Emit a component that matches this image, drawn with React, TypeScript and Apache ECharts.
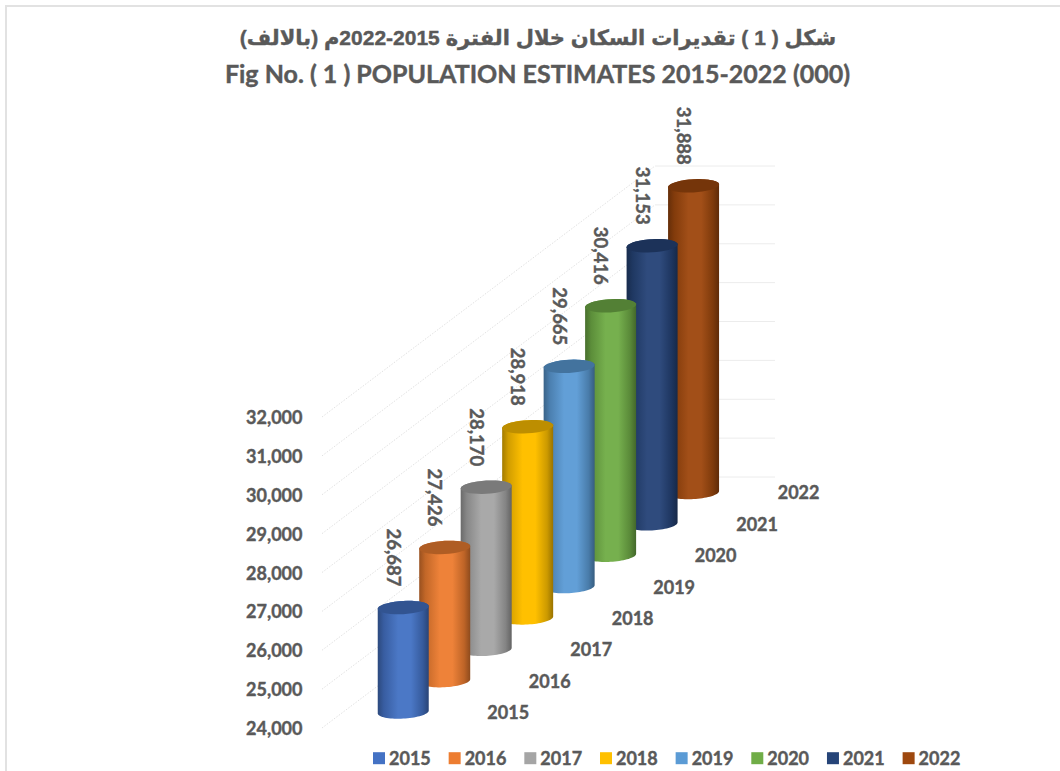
import React, { useEffect, useRef } from "react";
import * as echarts from "echarts";

const years = ["2015", "2016", "2017", "2018", "2019", "2020", "2021", "2022"];
const population = [26687, 27426, 28170, 28918, 29665, 30416, 31153, 31888];
const colors = ["#4472C4", "#ED7D31", "#A5A5A5", "#FFC000", "#5B9BD5", "#70AD47", "#264478", "#9E480E"];
const yTicks = [24000, 25000, 26000, 27000, 28000, 29000, 30000, 31000, 32000];
const titleArabic = "\u202Bشكل ( 1 ) تقديرات السكان خلال الفترة 2015-2022م (بالالف)\u202C";
const titleEnglish = "Fig No. ( 1 ) POPULATION ESTIMATES 2015-2022 (000)";

const FONT = "Lato, Carlito, 'Open Sans', sans-serif";
const TEXT = "#595959";
const HEAVY = { textBorderColor: TEXT, textBorderWidth: 0.4 };
const HEAVY_CUSTOM = { stroke: TEXT, lineWidth: 0.4 };
const DEPTH_STEP = -31.36; // vertical shift per category
const BASE_LIFT = -16;
const RX = 25.5;
const RY = 6.6;
const TILT = -0.055;

function shade(hex: string, f: number) {
  const n = parseInt(hex.slice(1), 16);
  const ch = [(n >> 16) & 255, (n >> 8) & 255, n & 255];
  const out = ch.map((c) => Math.round(f < 1 ? c * f : c + (255 - c) * (f - 1)));
  return `rgb(${out[0]},${out[1]},${out[2]})`;
}

function ellipsePts(cx: number, cy: number, from: number, to: number) {
  const pts: number[][] = [];
  const n = 36;
  for (let k = 0; k <= n; k++) {
    const t = from + ((to - from) * k) / n;
    const x = RX * Math.cos(t);
    const y = RY * Math.sin(t) + x * TILT;
    pts.push([cx + x, cy + y]);
  }
  return pts;
}

function cylinderSeries(i: number) {
  return {
    type: "custom",
    name: years[i],
    z: 20 - i,
    silent: true,
    clip: false,
    itemStyle: { color: colors[i] },
    data: [[i, population[i]]],
    encode: { x: 0, y: 1 },
    renderItem: (_: any, api: any) => {
      const idx = api.value(0);
      const val = api.value(1);
      const shift = DEPTH_STEP * idx + BASE_LIFT;
      const base = api.coord([idx, yTicks[0]]);
      const top = api.coord([idx, val]);
      const cx = base[0];
      const by = base[1] + shift;
      const ty = top[1] + shift;
      const c = colors[i];
      const body = [...ellipsePts(cx, by, Math.PI, 0), ...ellipsePts(cx, ty, 0, -Math.PI)];
      const bright = i === 3 ? 1 : 1.04;
      return {
        type: "group",
        children: [
          {
            type: "polygon",
            shape: { points: body },
            style: {
              fill: new echarts.graphic.LinearGradient(0, 0, 1, 0, [
                { offset: 0, color: shade(c, 0.64) },
                { offset: 0.12, color: shade(c, 0.82) },
                { offset: 0.4, color: shade(c, bright) },
                { offset: 0.65, color: shade(c, bright) },
                { offset: 0.88, color: shade(c, 0.8) },
                { offset: 1, color: shade(c, 0.6) },
              ]),
            },
          },
          {
            type: "polygon",
            shape: { points: ellipsePts(cx, ty, 0, Math.PI * 2) },
            style: { fill: shade(c, 0.74) },
          },
          {
            type: "text",
            x: cx - 9.5,
            y: ty - 50,
            rotation: -Math.PI / 2,
            style: {
              text: population[i].toLocaleString("en-US"),
              fill: TEXT,
              font: `bold 18.5px ${FONT}`,
              align: "center",
              verticalAlign: "middle",
              ...HEAVY_CUSTOM,
            },
          },
          {
            type: "text",
            x: cx + 105,
            y: base[1] + DEPTH_STEP * idx - 16,
            style: {
              text: years[i],
              fill: TEXT,
              font: `bold 18px ${FONT}`,
              align: "center",
              verticalAlign: "middle",
              ...HEAVY_CUSTOM,
            },
          },
        ],
      };
    },
  };
}

const wallSeries = {
  type: "custom",
  name: "wall",
  z: 1,
  silent: true,
  clip: false,
  data: yTicks.map((t) => [0, t]),
  encode: { x: 0, y: 1 },
  renderItem: (_: any, api: any) => {
    const p = api.coord([0, api.value(1)]);
    const y = p[1];
    return {
      type: "group",
      children: [
        {
          type: "line",
          shape: { x1: 322, y1: y, x2: 655, y2: y - 251 },
          style: { stroke: "#d9d9d9", lineWidth: 0.8, lineDash: [1.5, 1.5] },
        },
        {
          type: "line",
          shape: { x1: 655, y1: y - 251, x2: 775, y2: y - 251 },
          style: { stroke: "#ececec", lineWidth: 1 },
        },
      ],
    };
  },
};

export default function App() {
  const ref = useRef<HTMLDivElement>(null);
  useEffect(() => {
    const chart = echarts.init(ref.current!, null, { renderer: "svg" });
    chart.setOption({
      animation: false,
      backgroundColor: "#ffffff",
      graphic: [
        { type: "line", silent: true, shape: { x1: 5, y1: 6, x2: 1060, y2: 6 }, style: { stroke: "#e2e2e2", lineWidth: 2 } },
        { type: "line", silent: true, shape: { x1: 6, y1: 5, x2: 6, y2: 771 }, style: { stroke: "#e2e2e2", lineWidth: 2 } },
      ],
      title: [
        {
          text: titleArabic,
          left: 533,
          top: 22,
          textAlign: "center",
          textStyle: { fontFamily: "'Liberation Sans', 'DejaVu Sans', sans-serif", fontWeight: "bold", fontSize: 21, color: TEXT, ...HEAVY },
        },
        {
          text: titleEnglish,
          left: 532.5,
          top: 55,
          textAlign: "center",
          textStyle: { fontFamily: FONT, fontWeight: "bold", fontSize: 25, color: TEXT, ...HEAVY },
        },
      ],
      legend: {
        left: 373,
        top: 749,
        padding: 0,
        itemWidth: 12,
        itemHeight: 12,
        itemGap: 17.7,
        icon: "rect",
        selectedMode: false,
        data: years,
        textStyle: { fontFamily: FONT, fontWeight: "bold", fontSize: 18, lineHeight: 16, color: TEXT, padding: [0, 0, 0, -1], ...HEAVY },
      },
      grid: { left: 382.5, width: 331.8, top: 417, height: 311 },
      xAxis: {
        type: "category",
        data: years,
        axisLine: { show: false },
        axisTick: { show: false },
        axisLabel: { show: false },
      },
      yAxis: {
        type: "value",
        min: 24000,
        max: 32000,
        interval: 1000,
        axisLine: { show: false },
        axisTick: { show: false },
        splitLine: { show: false },
        axisLabel: {
          margin: 80,
          color: TEXT,
          fontFamily: FONT,
          fontWeight: "bold",
          fontSize: 18,
          ...HEAVY,
          formatter: (v: number) => v.toLocaleString("en-US"),
        },
      },
      series: [wallSeries, ...years.map((_, i) => cylinderSeries(i))],
    });
    return () => chart.dispose();
  }, []);
  return (
    <div
      ref={ref}
      style={{ position: "absolute", left: 0, top: 0, width: 1060, height: 771, overflow: "hidden" }}
    />
  );
}
